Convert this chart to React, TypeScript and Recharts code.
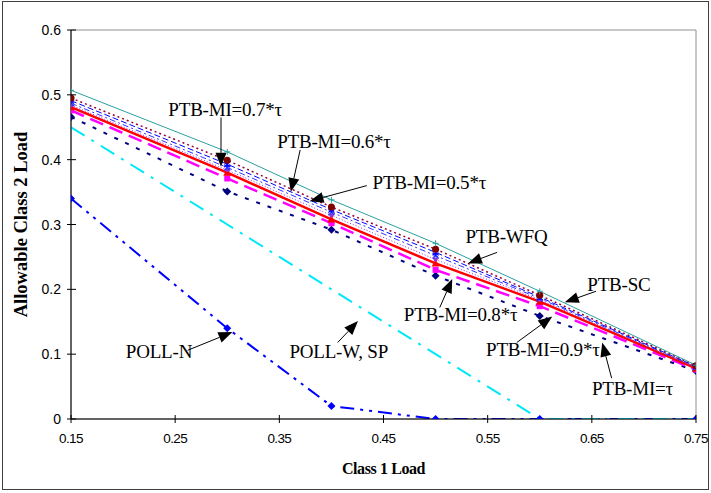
import React from "react"
import {
  LineChart,
  Line,
  XAxis,
  YAxis,
  ReferenceArea,
  ReferenceLine,
  ReferenceDot,
} from "recharts"

// class 1 load at each measured point
const loads = [0.15, 0.3, 0.4, 0.5, 0.6, 0.75]

// allowable class 2 load per scheme
const ptbSc = [0.507, 0.412, 0.338, 0.271, 0.197, 0.083]
const ptbWfq = [0.495, 0.399, 0.327, 0.262, 0.191, 0.082]
const mi05 = [0.491, 0.393, 0.323, 0.257, 0.188, 0.081]
const mi06 = [0.487, 0.388, 0.319, 0.252, 0.186, 0.08]
const mi07 = [0.484, 0.384, 0.314, 0.246, 0.184, 0.079]
const mi08 = [0.481, 0.38, 0.308, 0.24, 0.181, 0.078]
const mi09 = [0.476, 0.371, 0.302, 0.23, 0.174, 0.076]
const miTau = [0.466, 0.351, 0.292, 0.221, 0.159, 0.074]
const pollW = [0.45, 0.3, 0.2, 0.1, 0, 0]
const pollN = [0.34, 0.14, 0.02, 0, 0, 0]

const xTicks = [0.15, 0.25, 0.35, 0.45, 0.55, 0.65, 0.75]
const yTicks = [0, 0.1, 0.2, 0.3, 0.4, 0.5, 0.6]

// callouts: label centre, arrow start, arrow tip (data units)
const notes = [
  { text: "PTB-MI=0.7*τ", at: [0.298, 0.477], from: [0.294, 0.465], to: [0.294, 0.389] },
  { text: "PTB-MI=0.6*τ", at: [0.4025, 0.428], from: [0.37, 0.415], to: [0.361, 0.35] },
  { text: "PTB-MI=0.5*τ", at: [0.494, 0.364], from: [0.434, 0.36], to: [0.379, 0.336] },
  { text: "PTB-WFQ", at: [0.568, 0.281], from: [0.559, 0.257], to: [0.531, 0.24] },
  { text: "PTB-SC", at: [0.676, 0.206], from: [0.654, 0.197], to: [0.624, 0.18] },
  { text: "PTB-MI=0.8*τ", at: [0.524, 0.16], from: [0.504, 0.172], to: [0.516, 0.216] },
  { text: "PTB-MI=0.9*τ", at: [0.603, 0.106], from: [0.578, 0.118], to: [0.612, 0.158] },
  { text: "PTB-MI=τ", at: [0.689, 0.047], from: [0.669, 0.063], to: [0.66, 0.118] },
  { text: "POLL-N", at: [0.2345, 0.103], from: [0.262, 0.106], to: [0.305, 0.134] },
  { text: "POLL-W, SP", at: [0.407, 0.103], from: [0.406, 0.118], to: [0.4255, 0.151] },
]

const data = loads.map((x, i) => ({
  x,
  ptbSc: ptbSc[i],
  ptbWfq: ptbWfq[i],
  mi05: mi05[i],
  mi06: mi06[i],
  mi07: mi07[i],
  mi08: mi08[i],
  mi09: mi09[i],
  miTau: miTau[i],
  pollW: pollW[i],
  pollN: pollN[i],
}))

type Kind = "plus" | "circle" | "cross" | "star" | "triangle" | "square" | "diamond" | "dot"

function marker(kind: Kind, color: string, size = 4) {
  return (p: any) => {
    const { cx, cy, index } = p
    if (cx == null || cy == null) return <g key={index} />
    const s = size
    switch (kind) {
      case "plus":
        return (
          <path key={index} d={`M${cx - s},${cy}H${cx + s}M${cx},${cy - s}V${cy + s}`} stroke={color} strokeWidth={1} />
        )
      case "circle":
        return <circle key={index} cx={cx} cy={cy} r={s} fill={color} />
      case "cross":
        return (
          <path key={index} d={`M${cx - s},${cy - s}L${cx + s},${cy + s}M${cx - s},${cy + s}L${cx + s},${cy - s}`} stroke={color} strokeWidth={1.5} />
        )
      case "star":
        return (
          <path
            key={index}
            d={`M${cx - s},${cy - s}L${cx + s},${cy + s}M${cx - s},${cy + s}L${cx + s},${cy - s}M${cx},${cy - s}V${cy + s}`}
            stroke={color}
            strokeWidth={1.2}
          />
        )
      case "triangle":
        return <path key={index} d={`M${cx},${cy - s}L${cx + s},${cy + s * 0.8}L${cx - s},${cy + s * 0.8}Z`} fill={color} />
      case "square":
        return <rect key={index} x={cx - s} y={cy - s} width={s * 2} height={s * 2} fill={color} />
      case "diamond":
        return <path key={index} d={`M${cx},${cy - s}L${cx + s},${cy}L${cx},${cy + s}L${cx - s},${cy}Z`} fill={color} />
      default:
        return <circle key={index} cx={cx} cy={cy} r={s} fill={color} />
    }
  }
}

function XTick(p: any) {
  const { x, y, payload } = p
  return (
    <g>
      <line x1={x} x2={x} y1={y - 4} y2={y + 4} stroke="#000" />
      <text x={x} y={y + 24} textAnchor="middle" fontFamily="Liberation Sans, Arial" fontSize={13.5} letterSpacing={-0.6} fill="#000">
        {payload.value.toFixed(2)}
      </text>
    </g>
  )
}

function YTick(p: any) {
  const { x, y, payload } = p
  return (
    <g>
      <line x1={x - 4} x2={x + 5} y1={y} y2={y} stroke="#000" />
      <text x={x - 10} y={y + 5} textAnchor="end" fontFamily="Liberation Sans, Arial" fontSize={14} fill="#000">
        {payload.value === 0 ? "0" : payload.value.toFixed(1)}
      </text>
    </g>
  )
}

const arrow = (p: any) => {
  const { x1, y1, x2, y2 } = p
  const dx = x2 - x1
  const dy = y2 - y1
  const len = Math.hypot(dx, dy) || 1
  const ux = dx / len
  const uy = dy / len
  const L = 14
  const W = 5.5
  const bx = x2 - ux * L
  const by = y2 - uy * L
  return (
    <g>
      <line x1={x1} y1={y1} x2={bx} y2={by} stroke="#000" strokeWidth={1} />
      <polygon
        points={`${x2},${y2} ${bx - uy * W},${by + ux * W} ${bx + uy * W},${by - ux * W}`}
        fill="#000"
      />
    </g>
  )
}

const serif = "Liberation Serif, Times New Roman, serif"

export default function App() {
  return (
    <div style={{ position: "fixed", left: 0, top: 0, width: 711, height: 493, background: "#fff" }}>
      <div
        style={{
          position: "absolute",
          left: 2,
          top: 1,
          width: 705,
          height: 487,
          border: "1px solid #404040",
        }}
      />
      <LineChart
        width={711}
        height={493}
        data={data}
        margin={{ top: 30, right: 15, bottom: 0, left: 0 }}
        style={{ position: "absolute", left: 0, top: 0 }}
      >
        <ReferenceArea x1={0.15} x2={0.75} y1={0} y2={0.6} fill="none" stroke="#909090" strokeWidth={1} />
        <XAxis
          dataKey="x"
          type="number"
          domain={[0.15, 0.75]}
          ticks={xTicks}
          allowDataOverflow
          height={74}
          tickSize={0}
          tickMargin={0}
          tickLine={false}
          axisLine={{ stroke: "#000" }}
          tick={<XTick />}
          interval={0}
          label={{
            value: "Class 1 Load",
            position: "insideBottom",
            offset: 19,
            style: { fontFamily: serif, fontWeight: "bold", fontSize: 16, fill: "#000", letterSpacing: -0.4 },
          }}
        />
        <YAxis
          type="number"
          domain={[0, 0.6]}
          ticks={yTicks}
          allowDataOverflow
          width={71}
          tickSize={0}
          tickMargin={0}
          tickLine={false}
          axisLine={{ stroke: "#000" }}
          tick={<YTick />}
          interval={0}
          label={{
            value: "Allowable Class 2 Load",
            angle: -90,
            position: "insideLeft",
            offset: 20,
            style: { fontFamily: serif, fontWeight: "bold", fontSize: 18.5, fill: "#000", textAnchor: "middle" },
          }}
        />

        <Line dataKey="pollN" stroke="#0000ff" strokeWidth={2} strokeDasharray="14 6 3 6 3 6" dot={marker("diamond", "#0000ff", 4)} isAnimationActive={false} />
        <Line dataKey="pollW" stroke="#00e8f8" strokeWidth={2} strokeDasharray="16 8 3 8" dot={false} isAnimationActive={false} />
        <Line dataKey="miTau" stroke="#000080" strokeWidth={2} strokeDasharray="4 8" dot={marker("diamond", "#000080", 4)} isAnimationActive={false} />
        <Line dataKey="mi09" stroke="#ff00ff" strokeWidth={2.5} strokeDasharray="14 7" dot={marker("square", "#ff00ff", 3)} isAnimationActive={false} />
        <Line dataKey="mi08" stroke="#ff0000" strokeWidth={2.5} dot={marker("triangle", "#ff0000", 4)} isAnimationActive={false} />
        <Line dataKey="mi07" stroke="#9933cc" strokeWidth={1} strokeDasharray="1 2" dot={marker("dot", "#9933cc", 2)} isAnimationActive={false} />
        <Line dataKey="mi06" stroke="#3333ff" strokeWidth={1} strokeDasharray="6 3 2 3" dot={marker("cross", "#3333ff", 3)} isAnimationActive={false} />
        <Line dataKey="mi05" stroke="#0000ff" strokeWidth={1} strokeDasharray="6 3" dot={marker("star", "#0000ff", 3)} isAnimationActive={false} />
        <Line dataKey="ptbWfq" stroke="#990033" strokeWidth={1.5} strokeDasharray="2 3" dot={marker("circle", "#800000", 3.5)} isAnimationActive={false} />
        <Line dataKey="ptbSc" stroke="#2aa0a0" strokeWidth={1} dot={marker("plus", "#2aa0a0", 3)} isAnimationActive={false} />

        {notes.map((n) => (
          <ReferenceLine
            key={"a" + n.text}
            segment={[
              { x: n.from[0], y: n.from[1] },
              { x: n.to[0], y: n.to[1] },
            ]}
            shape={arrow}
            ifOverflow="visible"
          />
        ))}
        {notes.map((n) => (
          <ReferenceDot
            key={"t" + n.text}
            x={n.at[0]}
            y={n.at[1]}
            r={0}
            ifOverflow="visible"
            shape={(p: any) => (
              <text
                x={p.cx}
                y={p.cy + 6}
                textAnchor="middle"
                fontFamily={serif}
                fontSize={19}
                fill="#000"
                letterSpacing={-0.2}
              >
                {n.text}
              </text>
            )}
          />
        ))}
      </LineChart>
    </div>
  )
}
